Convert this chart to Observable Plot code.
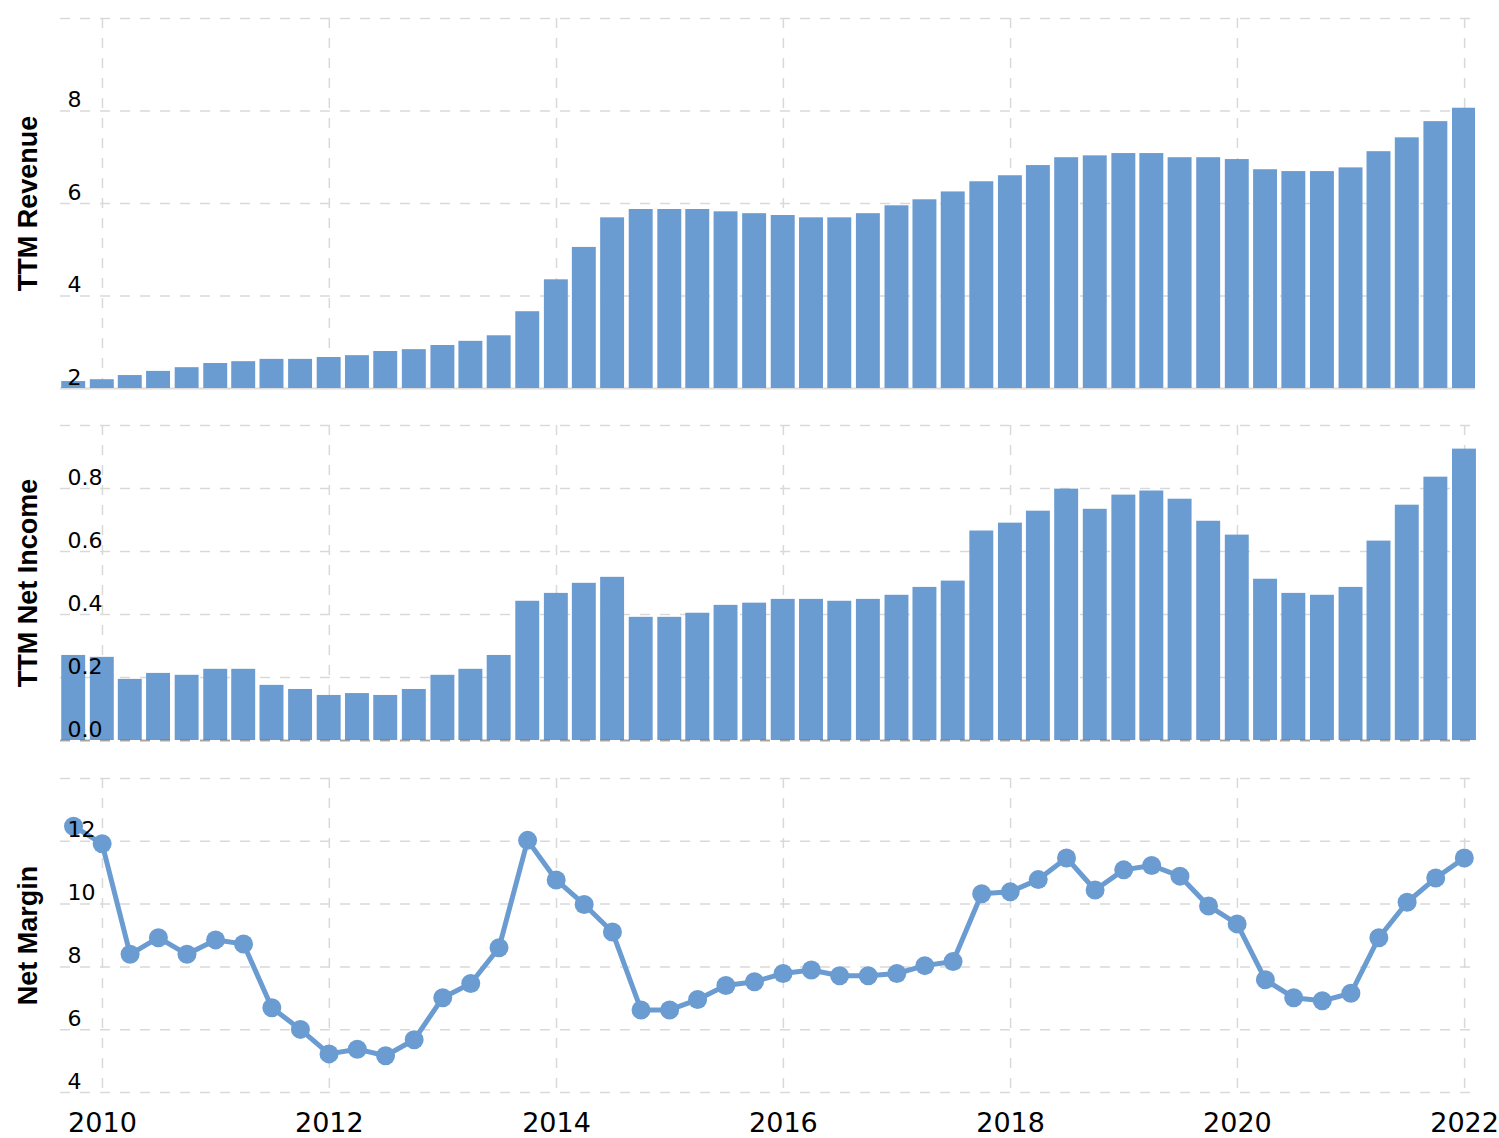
<!DOCTYPE html>
<html>
<head>
<meta charset="utf-8">
<script src="https://cdn.jsdelivr.net/npm/d3@7"></script>
<script src="https://cdn.jsdelivr.net/npm/@observablehq/plot@0.6"></script>
<style>
  html, body { margin: 0; padding: 0; background: #ffffff; }
  #chart svg { display: block; }
</style>
</head>
<body>
<div id="chart"></div>
<script>
// Quarter-end dates
const quarters = [
  "2009-09-30","2009-12-31",
  "2010-03-31","2010-06-30","2010-09-30","2010-12-31",
  "2011-03-31","2011-06-30","2011-09-30","2011-12-31",
  "2012-03-31","2012-06-30","2012-09-30","2012-12-31",
  "2013-03-31","2013-06-30","2013-09-30","2013-12-31",
  "2014-03-31","2014-06-30","2014-09-30","2014-12-31",
  "2015-03-31","2015-06-30","2015-09-30","2015-12-31",
  "2016-03-31","2016-06-30","2016-09-30","2016-12-31",
  "2017-03-31","2017-06-30","2017-09-30","2017-12-31",
  "2018-03-31","2018-06-30","2018-09-30","2018-12-31",
  "2019-03-31","2019-06-30","2019-09-30","2019-12-31",
  "2020-03-31","2020-06-30","2020-09-30","2020-12-31",
  "2021-03-31","2021-06-30","2021-09-30","2021-12-31"
];

// TTM Revenue
const revenue = [
  2.15, 2.19, 2.28, 2.37, 2.45, 2.54, 2.58, 2.63, 2.63, 2.67,
  2.71, 2.80, 2.84, 2.93, 3.02, 3.14, 3.66, 4.35, 5.05, 5.69,
  5.87, 5.87, 5.87, 5.82, 5.78, 5.74, 5.69, 5.69, 5.78, 5.95,
  6.08, 6.25, 6.47, 6.60, 6.82, 6.99, 7.03, 7.08, 7.08, 6.99,
  6.99, 6.95, 6.73, 6.69, 6.69, 6.77, 7.12, 7.42, 7.77, 8.06
];

// TTM Net Income
const netIncome = [
  0.270, 0.264, 0.194, 0.213, 0.207, 0.226, 0.226, 0.175, 0.162, 0.143,
  0.149, 0.143, 0.162, 0.207, 0.226, 0.270, 0.442, 0.467, 0.499, 0.518,
  0.391, 0.391, 0.404, 0.429, 0.436, 0.448, 0.448, 0.442, 0.448, 0.461,
  0.486, 0.506, 0.665, 0.690, 0.728, 0.798, 0.734, 0.779, 0.792, 0.766,
  0.696, 0.652, 0.512, 0.467, 0.461, 0.486, 0.633, 0.747, 0.836, 0.925
];

// Net Margin (%)
const netMargin = [
  12.48, 11.92, 8.40, 8.93, 8.40, 8.86, 8.73, 6.70, 6.01, 5.23,
  5.38, 5.17, 5.68, 7.02, 7.47, 8.61, 12.03, 10.77, 9.99, 9.11,
  6.63, 6.63, 6.96, 7.41, 7.53, 7.79, 7.90, 7.72, 7.72, 7.79,
  8.04, 8.17, 10.33, 10.39, 10.78, 11.47, 10.45, 11.09, 11.23, 10.89,
  9.94, 9.37, 7.59, 7.02, 6.92, 7.16, 8.93, 10.06, 10.83, 11.47
];

// Axis tick values and titles
const yearTicks = ["2010","2012","2014","2016","2018","2020","2022"];
const revenueGrid = [2, 4, 6, 8, 10];
const revenueLabels = [2, 4, 6, 8];
const incomeGrid = [0, 0.2, 0.4, 0.6, 0.8, 1.0];
const incomeLabels = [0, 0.2, 0.4, 0.6, 0.8];
const marginGrid = [4, 6, 8, 10, 12, 14];
const marginLabels = [4, 6, 8, 10, 12];
const titles = ["TTM Revenue", "TTM Net Income", "Net Margin"];

// ---- build tables ----
const parse = d3.utcParse("%Y-%m-%d");
const dates = quarters.map(parse);
const years = yearTicks.map(y => d3.utcParse("%Y")(y));
const revData = dates.map((d, i) => ({date: d, value: revenue[i]}));
const incData = dates.map((d, i) => ({date: d, value: netIncome[i]}));
const marData = dates.map((d, i) => ({date: d, value: netMargin[i]}));

const BLUE = "#6a9bd1";
const GRID = "#d9d9d9";
const xDomain = [parse("2009-08-19"), parse("2022-02-05")];
const W = 1499;

const barX1 = d => d3.utcDay.offset(d.date, -38);
const barX2 = d => d3.utcDay.offset(d.date, 39);

function commonMarks(grid, labels, fmt, title) {
  return {
    before: [
      Plot.ruleY(grid, {stroke: GRID, strokeWidth: 1.5, strokeDasharray: "10,10"}),
      Plot.ruleX(years, {stroke: GRID, strokeWidth: 1.5, strokeDasharray: "10,10"})
    ],
    after: [
      Plot.text(labels, {y: d => d, text: d => fmt(d), frameAnchor: "left", textAnchor: "start",
        lineAnchor: "middle", dx: 7, dy: -11, fontSize: 22, fill: "#000"}),
      Plot.text([title], {text: d => d, frameAnchor: "left", rotate: -90, dx: -32,
        textAnchor: "middle", lineAnchor: "middle",
        fontSize: 27, fontWeight: "bold", fontFamily: "Liberation Sans, Arial, sans-serif", fill: "#000"})
    ]
  };
}

const baseStyle = {fontFamily: "DejaVu Sans, Verdana, sans-serif", fontSize: "22px", background: "#fff", overflow: "visible"};

// Panel 1: revenue
const c1 = commonMarks(revenueGrid, revenueLabels, d3.format("d"), titles[0]);
const p1 = Plot.plot({
  width: W, height: 400,
  marginLeft: 60, marginRight: 24, marginTop: 18, marginBottom: 12,
  x: {type: "utc", domain: xDomain, axis: null},
  y: {domain: [2, 10], axis: null},
  style: baseStyle,
  marks: [
    ...c1.before,
    Plot.ruleY([2], {stroke: "#dddddd", strokeWidth: 2}),
    Plot.rectY(revData, {x1: barX1, x2: barX2, y: "value", fill: BLUE, clip: true}),
    ...c1.after
  ]
});

// Panel 2: net income
const c2 = commonMarks(incomeGrid, incomeLabels, d3.format(".1f"), titles[1]);
const p2 = Plot.plot({
  width: W, height: 360,
  marginLeft: 60, marginRight: 24, marginTop: 25, marginBottom: 20,
  x: {type: "utc", domain: xDomain, axis: null},
  y: {domain: [0, 1.0], axis: null},
  style: baseStyle,
  marks: [
    ...c2.before,
    Plot.rectY(incData, {x1: barX1, x2: barX2, y: "value", fill: BLUE}),
    Plot.ruleY([0], {stroke: "#555", strokeOpacity: 0.4, strokeWidth: 2, strokeDasharray: "10,10"}),
    ...c2.after
  ]
});

// Panel 3: net margin
const c3 = commonMarks(marginGrid, marginLabels, d3.format("d"), titles[2]);
const p3 = Plot.plot({
  width: W, height: 378,
  marginLeft: 60, marginRight: 24, marginTop: 18, marginBottom: 46,
  x: {type: "utc", domain: xDomain, axis: null},
  y: {domain: [4, 14], axis: null},
  style: baseStyle,
  marks: [
    ...c3.before,
    Plot.line(marData, {x: "date", y: "value", stroke: BLUE, strokeWidth: 5, strokeLinejoin: "round"}),
    Plot.dot(marData, {x: "date", y: "value", r: 9.5, fill: BLUE}),
    Plot.text(years, {x: d => d, text: d => d3.utcFormat("%Y")(d), frameAnchor: "bottom", dy: 31,
      lineAnchor: "middle", fontSize: 27, fill: "#000"}),
    ...c3.after
  ]
});

const chart = document.getElementById("chart");
chart.append(p1, p2, p3);
</script>
</body>
</html>
